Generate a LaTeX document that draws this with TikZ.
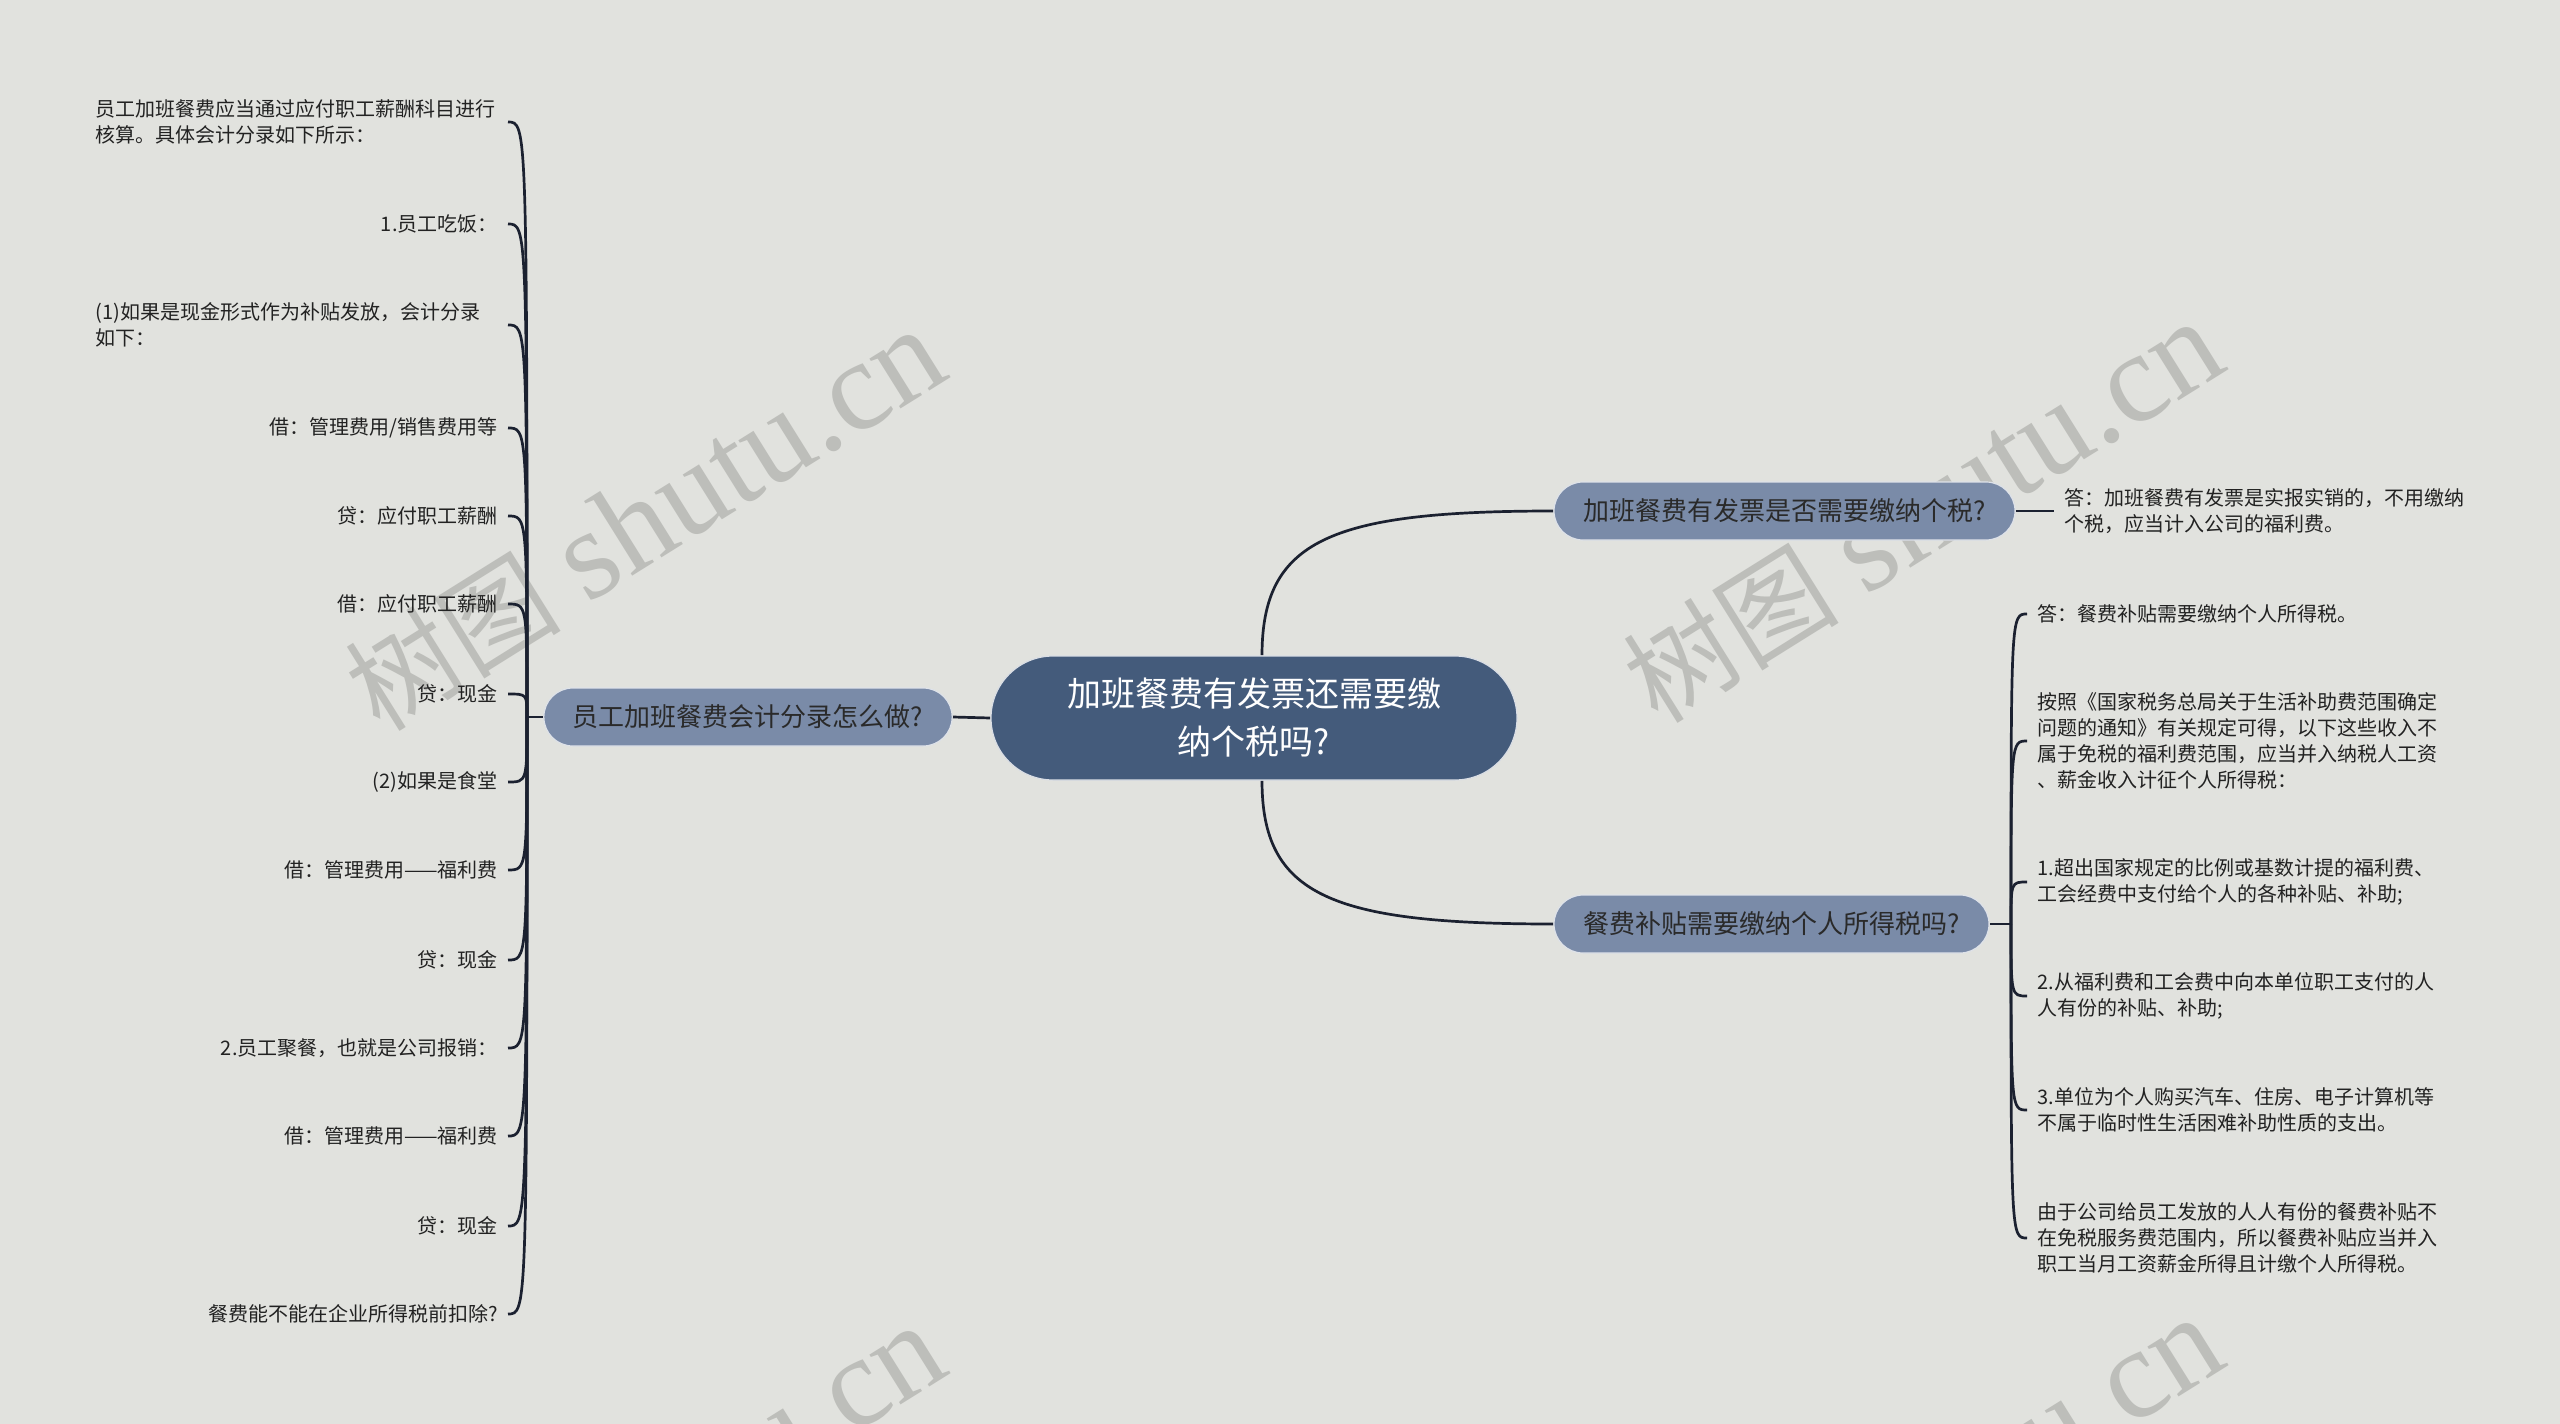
\documentclass[tikz,border=0pt]{standalone}
\usepackage{fontspec}
\setmainfont{Noto Sans CJK SC}
\newfontfamily\wmserif{Liberation Serif}
\newfontfamily\wmcjk{Noto Sans CJK SC}
\definecolor{bgc}{HTML}{E1E2DE}
\definecolor{cfill}{HTML}{445B7B}
\definecolor{bfill}{HTML}{7A8BA8}
\definecolor{btext}{HTML}{2A2A2A}
\definecolor{linec}{HTML}{1B2130}
\definecolor{leaftext}{HTML}{222222}
\definecolor{wmc}{HTML}{BDBEBA}
\pgfdeclarelayer{back}
\pgfsetlayers{back,main}
\newcommand{\wmtext}{{\wmcjk\fontsize{54}{54}\selectfont 树图}\hspace{14pt}{\wmserif\fontsize{64}{64}\selectfont shutu.cn}}
\begin{document}
\begin{tikzpicture}[x=0.5pt,y=-0.5pt,
  conn/.style={draw=linec, line width=1.35pt},
  centre/.style={fill=cfill, draw=white!80!cfill, line width=0.6pt, rounded corners=31pt,
    minimum width=263pt, minimum height=62pt, text=white, align=center,
    font=\fontsize{17}{24}\selectfont},
  branch/.style={fill=bfill, draw=white!75!bfill, line width=0.6pt, rounded corners=14.5pt,
    minimum height=29pt, inner xsep=14.5pt, text=btext, font=\fontsize{13}{16}\selectfont},
  lleaf/.style={anchor=east, inner xsep=5pt, inner ysep=2pt, text=leaftext, align=right,
    font=\fontsize{10}{13}\selectfont},
  lleafw/.style={lleaf, text width=201pt, align=left},
  rleaf/.style={anchor=west, inner xsep=5pt, inner ysep=2pt, text=leaftext, align=left,
    font=\fontsize{10}{13}\selectfont},
  wm/.style={text=wmc, rotate=32, inner sep=0pt}
]
\useasboundingbox (0,0) rectangle (2560,1424);
\begin{pgfonlayer}{back}
\fill[bgc] (0,0) rectangle (2560,1424);
\begin{scope}
\clip (0,0) rectangle (2560,1424);
\node[wm] (w1) at (645,520) {\wmtext};
\node[wm] (w2) at (1923,512) {\wmtext};
\node[wm] (w3) at (645,1516) {\wmtext};
\node[wm] (w4) at (1923,1508) {\wmtext};
\end{scope}
\end{pgfonlayer}

% central and branch nodes
\node[centre] (c) at (1254,718) {加班餐费有发票还需要缴\\纳个税吗?};
\node[branch, minimum width=204pt] (bl) at (748,717) {员工加班餐费会计分录怎么做?};
\node[branch, minimum width=230.5pt] (br1) at (1784.5,511) {加班餐费有发票是否需要缴纳个税?};
\node[branch, minimum width=217.5pt] (br2) at (1771.5,924) {餐费补贴需要缴纳个人所得税吗?};

% left leaves
\node[lleafw] (l1) at (508,122) {员工加班餐费应当通过应付职工薪酬科目进行\\核算。具体会计分录如下所示：};
\node[lleaf] (l2) at (508,224) {1.员工吃饭：};
\node[lleafw] (l3) at (508,325) {(1)如果是现金形式作为补贴发放，会计分录\\如下：};
\node[lleaf] (l4) at (508,428) {借：管理费用/销售费用等};
\node[lleaf] (l5) at (508,516) {贷：应付职工薪酬};
\node[lleaf] (l6) at (508,604) {借：应付职工薪酬};
\node[lleaf] (l7) at (508,694) {贷：现金};
\node[lleaf] (l8) at (508,782) {(2)如果是食堂};
\node[lleaf] (l9) at (508,870) {借：管理费用——福利费};
\node[lleaf] (l10) at (508,960) {贷：现金};
\node[lleaf] (l11) at (508,1048) {2.员工聚餐，也就是公司报销：};
\node[lleaf] (l12) at (508,1136) {借：管理费用——福利费};
\node[lleaf] (l13) at (508,1226) {贷：现金};
\node[lleaf] (l14) at (508,1314) {餐费能不能在企业所得税前扣除?};

% right leaves
\node[rleaf] (ra) at (2054,511) {答：加班餐费有发票是实报实销的，不用缴纳\\个税，应当计入公司的福利费。};
\node[rleaf] (r1) at (2027,614) {答：餐费补贴需要缴纳个人所得税。};
\node[rleaf] (r2) at (2027,741) {按照《国家税务总局关于生活补助费范围确定\\问题的通知》有关规定可得，以下这些收入不\\属于免税的福利费范围，应当并入纳税人工资\\、薪金收入计征个人所得税：};
\node[rleaf] (r3) at (2027,882) {1.超出国家规定的比例或基数计提的福利费、\\工会经费中支付给个人的各种补贴、补助;};
\node[rleaf] (r4) at (2027,996) {2.从福利费和工会费中向本单位职工支付的人\\人有份的补贴、补助;};
\node[rleaf] (r5) at (2027,1110) {3.单位为个人购买汽车、住房、电子计算机等\\不属于临时性生活困难补助性质的支出。};
\node[rleaf] (r6) at (2027,1238) {由于公司给员工发放的人人有份的餐费补贴不\\在免税服务费范围内，所以餐费补贴应当并入\\职工当月工资薪金所得且计缴个人所得税。};

\coordinate (lt) at (527,717);
\coordinate (rt) at (2011,924);

\begin{pgfonlayer}{back}
\draw[conn] (c.west) -- (bl.east);
\draw[conn] ([xshift=4pt]c.north) .. controls (1262,540) and (1330,511) .. (br1.west);
\draw[conn] ([xshift=4pt]c.south) .. controls (1262,895) and (1330,924) .. (br2.west);
\draw[conn] (bl.west) -- (lt);
\foreach \n in {l1,l2,l3,l4,l5,l6,l7,l8,l9,l10,l11,l12,l13,l14}
  \draw[conn] (lt) .. controls (lt |- \n.east) .. (\n.east);
\draw[conn] (br1.east) -- (ra.west);
\draw[conn] (br2.east) -- (rt);
\foreach \n in {r1,r2,r3,r4,r5,r6}
  \draw[conn] (rt) .. controls (rt |- \n.west) .. (\n.west);
\end{pgfonlayer}
\end{tikzpicture}
\end{document}
